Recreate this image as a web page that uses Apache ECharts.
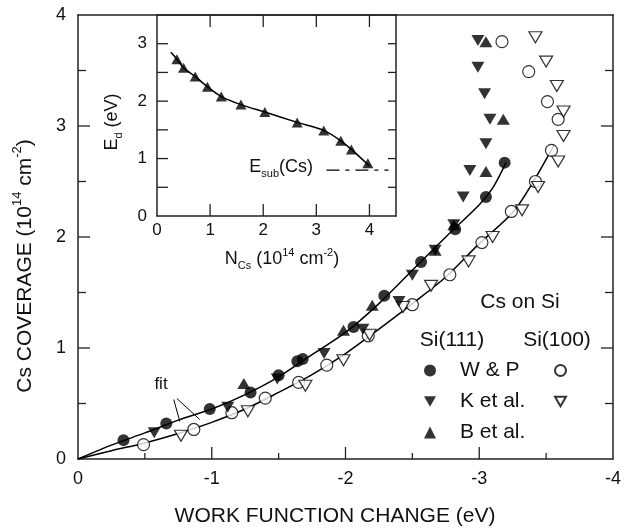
<!DOCTYPE html>
<html>
<head>
<meta charset="utf-8">
<script src="https://cdn.jsdelivr.net/npm/echarts@6/dist/echarts.min.js"></script>
<style>
  html, body { margin: 0; padding: 0; background: #fff; }
  #chart { width: 624px; height: 530px; }
</style>
</head>
<body>
<div id="chart"></div>
<script>
// Si(111): W & P (filled circles), K et al. (filled down triangles), B et al. (filled up triangles)
const wpX = [-0.34, -0.66, -0.985, -1.29, -1.50, -1.64, -1.68, -2.06, -2.29, -2.565, -2.82, -3.05, -3.19]
const wpY = [0.17, 0.32, 0.45, 0.60, 0.755, 0.88, 0.90, 1.19, 1.47, 1.775, 2.07, 2.36, 2.67]
const kX = [-0.57, -1.12, -1.49, -1.84, -2.13, -2.40, -2.50, -2.67, -2.81, -2.88, -2.93, -3.05, -3.08, -3.04, -2.99, -2.99]
const kY = [0.236, 0.467, 0.72, 0.95, 1.17, 1.42, 1.655, 1.88, 2.11, 2.36, 2.60, 2.84, 3.06, 3.29, 3.53, 3.77]
const bX = [-1.24, -1.985, -2.20, -2.67, -2.81, -3.05, -3.18, -3.05]
const bY = [0.68, 1.16, 1.385, 1.88, 2.11, 2.59, 3.06, 3.76]

// Si(100): W & P (open circles), K et al. (open down triangles)
const wp100X = [-0.49, -0.866, -1.15, -1.40, -1.65, -1.86, -2.17, -2.50, -2.78, -3.02, -3.24, -3.42, -3.54, -3.59, -3.51, -3.37, -3.17]
const wp100Y = [0.13, 0.266, 0.417, 0.548, 0.69, 0.846, 1.11, 1.39, 1.66, 1.95, 2.23, 2.50, 2.78, 3.06, 3.22, 3.49, 3.76]
const k100X = [-0.77, -1.27, -1.70, -1.985, -2.18, -2.43, -2.64, -2.92, -3.10, -3.32, -3.44, -3.59, -3.63, -3.63, -3.58, -3.50, -3.42]
const k100Y = [0.21, 0.43, 0.66, 0.89, 1.12, 1.37, 1.56, 1.78, 2.00, 2.24, 2.45, 2.68, 2.91, 3.13, 3.36, 3.58, 3.80]

// fit curves
const fit111X = [0, -0.25, -0.5, -0.75, -1.0, -1.25, -1.5, -1.75, -2.0, -2.25, -2.5, -2.75, -3.0, -3.1, -3.2]
const fit111Y = [0, 0.125, 0.235, 0.35, 0.45, 0.58, 0.74, 0.94, 1.14, 1.40, 1.70, 2.00, 2.29, 2.44, 2.67]
const fit100X = [0, -0.25, -0.5, -0.75, -1.0, -1.25, -1.5, -1.75, -2.0, -2.25, -2.5, -2.75, -3.0, -3.25, -3.4, -3.56]
const fit100Y = [0, 0.075, 0.145, 0.23, 0.33, 0.45, 0.60, 0.76, 0.95, 1.17, 1.40, 1.64, 1.94, 2.22, 2.49, 2.83]
// "fit" pointer lines
const pointerAX = [-0.716, -0.761]
const pointerAY = [0.536, 0.338]
const pointerBX = [-0.739, -0.910]
const pointerBY = [0.545, 0.356]

// inset: E_d vs N_Cs
const edN = [0.375, 0.50, 0.72, 0.95, 1.21, 1.58, 2.03, 2.64, 3.14, 3.46, 3.66, 3.97]
const edE = [2.73, 2.58, 2.43, 2.25, 2.08, 1.94, 1.81, 1.63, 1.49, 1.31, 1.16, 0.92]
const edFitN = [0.26, 0.375, 0.50, 0.72, 0.95, 1.21, 1.58, 2.03, 2.64, 3.14, 3.46, 3.66, 4.0]
const edFitE = [2.85, 2.73, 2.58, 2.43, 2.25, 2.08, 1.94, 1.81, 1.63, 1.49, 1.31, 1.16, 0.87]
const esubN = [3.19, 4.36]
const esubE = [0.80, 0.80]

// tick positions (inward ticks on the frames)
const mainXTicks = [-0.5, -1, -1.5, -2, -2.5, -3, -3.5]
const mainYTicks = [0.5, 1, 1.5, 2, 2.5, 3, 3.5]
const insetXTicks = [1, 2, 3, 4]
const insetYTicks = [0.5, 1, 1.5, 2, 2.5, 3]

const FONT = 'Liberation Sans, Arial, Helvetica, sans-serif'
const INK = '#111'
const DOWN = 'path://M0,0 L10,0 L5,8.66 Z'

const zip = (xs, ys) => xs.map((x, i) => [x, ys[i]])

function label(x, y, text, size, extra, align) {
  const small = Math.round(size * 0.62)
  return Object.assign({
    type: 'text', x: x, y: y, z: 100,
    style: {
      text: text, fontSize: size, fontFamily: FONT, fill: INK,
      align: align || 'center', verticalAlign: 'middle', lineHeight: Math.round(size * 1.35),
      rich: {
        sup: { fontSize: small, fontFamily: FONT, fill: INK, lineHeight: small, verticalAlign: 'top' },
        sub: { fontSize: small, fontFamily: FONT, fill: INK, lineHeight: small, verticalAlign: 'bottom' }
      }
    }
  }, extra || {})
}

function axis(opts) {
  const a = {
    type: 'value',
    gridIndex: opts.grid,
    min: opts.min, max: opts.max, interval: opts.interval,
    inverse: !!opts.inverse,
    axisLine: { show: true, onZero: false, lineStyle: { color: '#222', width: 1.5 } },
    axisTick: { show: false },
    axisLabel: opts.label
      ? { show: true, fontSize: opts.label, fontFamily: FONT, color: INK, margin: opts.margin, formatter: opts.formatter }
      : { show: false },
    splitLine: { show: false }
  }
  if (opts.position) a.position = opts.position
  return a
}
const hideHalf = v => (Math.abs(v - Math.round(v)) < 1e-6 ? String(Math.round(v)) : '')

// inward ticks drawn through the axes' own scales
function tickSeries(name, xIndex, yIndex, side, edge, values, majorLen, minorLen) {
  return {
    type: 'custom', name: name, xAxisIndex: xIndex, yAxisIndex: yIndex,
    silent: true, clip: false, z: 2,
    data: values.map(v => [v, v]),
    renderItem: function (params, api) {
      const v = api.value(0)
      const len = Math.abs(v - Math.round(v)) < 1e-6 ? majorLen : minorLen
      let p
      let dx = 0
      let dy = 0
      if (side === 'bottom') { p = api.coord([v, edge]); dy = -len }
      else if (side === 'top') { p = api.coord([v, edge]); dy = len }
      else if (side === 'left') { p = api.coord([edge, v]); dx = len }
      else { p = api.coord([edge, v]); dx = -len }
      return {
        type: 'line',
        shape: { x1: p[0], y1: p[1], x2: p[0] + dx, y2: p[1] + dy },
        style: { stroke: '#222', lineWidth: 1.3 }
      }
    }
  }
}

const chart = echarts.init(document.getElementById('chart'))

chart.setOption({
  animation: false,
  backgroundColor: '#fff',
  grid: [
    { left: 78, top: 15, width: 536, height: 444, show: false },
    { left: 157, top: 15, width: 239, height: 201, show: false }
  ],
  xAxis: [
    axis({ grid: 0, min: -4, max: 0, interval: 1, inverse: true, label: 18, margin: 11 }),
    axis({ grid: 0, min: -4, max: 0, interval: 1, inverse: true, position: 'top' }),
    axis({ grid: 1, min: 0, max: 4.5, interval: 1, label: 17, margin: 6, formatter: hideHalf }),
    axis({ grid: 1, min: 0, max: 4.5, interval: 1, position: 'top' })
  ],
  yAxis: [
    axis({ grid: 0, min: 0, max: 4, interval: 1, label: 18, margin: 12 }),
    axis({ grid: 0, min: 0, max: 4, interval: 1, position: 'right' }),
    axis({ grid: 1, min: 0, max: 3.5, interval: 0.5, label: 17, margin: 10, formatter: hideHalf }),
    axis({ grid: 1, min: 0, max: 3.5, interval: 0.5, position: 'right' })
  ],
  legend: [
    {
      orient: 'vertical', left: 419, top: 355, itemWidth: 12, itemHeight: 12, itemGap: 10,
      selectedMode: false,
      data: ['W & P', 'K et al.', 'B et al.'],
      textStyle: { fontSize: 21, fontFamily: FONT, color: INK, lineHeight: 20, padding: [0, 0, 0, 19] }
    },
    {
      orient: 'vertical', left: 549, top: 355, itemWidth: 11, itemHeight: 11, itemGap: 10,
      selectedMode: false,
      data: ['W & P (100)', 'K et al. (100)'],
      formatter: () => ' ',
      textStyle: { fontSize: 21, fontFamily: FONT, color: INK, lineHeight: 20 }
    }
  ],
  graphic: [
    label(25, 266, 'Cs COVERAGE (10{sup|14} cm{sup|-2})', 21, { rotation: Math.PI / 2 }),
    label(335, 516, 'WORK FUNCTION CHANGE (eV)', 21),
    label(112, 122, 'E{sub|d} (eV)', 18, { rotation: Math.PI / 2 }),
    label(282, 259, 'N{sub|Cs} (10{sup|14} cm{sup|-2})', 18),
    label(313, 167, 'E{sub|sub}(Cs)', 18, null, 'right'),
    label(161, 384, 'fit', 17),
    label(520, 302, 'Cs on Si', 21),
    label(452, 340, 'Si(111)', 21),
    label(557, 340, 'Si(100)', 21)
  ],
  series: [
    tickSeries('tick-main-bottom', 0, 0, 'bottom', 0, mainXTicks, 12, 6),
    tickSeries('tick-main-left', 0, 0, 'left', 0, mainYTicks, 12, 8),
    tickSeries('tick-main-right', 0, 0, 'right', -4, mainYTicks, 12, 8),
    tickSeries('tick-inset-bottom', 2, 2, 'bottom', 0, insetXTicks, 12, 12),
    tickSeries('tick-inset-top', 2, 2, 'top', 3.5, insetXTicks, 12, 12),
    tickSeries('tick-inset-left', 2, 2, 'left', 0, insetYTicks, 11, 11),
    tickSeries('tick-inset-right', 2, 2, 'right', 4.5, insetYTicks, 8, 8),
    {
      type: 'line', name: 'fit111', xAxisIndex: 0, yAxisIndex: 0, data: zip(fit111X, fit111Y),
      smooth: 0.3, symbol: 'none', lineStyle: { color: '#000', width: 1.5 }, z: 1
    },
    {
      type: 'line', name: 'fit100', xAxisIndex: 0, yAxisIndex: 0, data: zip(fit100X, fit100Y),
      smooth: 0.3, symbol: 'none', lineStyle: { color: '#000', width: 1.5 }, z: 1
    },
    {
      type: 'line', name: 'pointerA', xAxisIndex: 0, yAxisIndex: 0, data: zip(pointerAX, pointerAY),
      symbol: 'none', lineStyle: { color: '#000', width: 1 }, z: 1
    },
    {
      type: 'line', name: 'pointerB', xAxisIndex: 0, yAxisIndex: 0, data: zip(pointerBX, pointerBY),
      symbol: 'none', lineStyle: { color: '#000', width: 1 }, z: 1
    },
    {
      type: 'scatter', name: 'W & P (100)', xAxisIndex: 0, yAxisIndex: 0, data: zip(wp100X, wp100Y),
      symbol: 'circle', symbolSize: 12,
      itemStyle: { color: '#fff', borderColor: '#000', borderWidth: 1.2 }, z: 3
    },
    {
      type: 'scatter', name: 'K et al. (100)', xAxisIndex: 0, yAxisIndex: 0, data: zip(k100X, k100Y),
      symbol: DOWN, symbolSize: [13, 11],
      itemStyle: { color: '#fff', borderColor: '#000', borderWidth: 1.2 }, z: 3
    },
    {
      type: 'scatter', name: 'W & P', xAxisIndex: 0, yAxisIndex: 0, data: zip(wpX, wpY),
      symbol: 'circle', symbolSize: 12, itemStyle: { color: '#000' }, z: 4
    },
    {
      type: 'scatter', name: 'K et al.', xAxisIndex: 0, yAxisIndex: 0, data: zip(kX, kY),
      symbol: DOWN, symbolSize: [13, 11], itemStyle: { color: '#000' }, z: 4
    },
    {
      type: 'scatter', name: 'B et al.', xAxisIndex: 0, yAxisIndex: 0, data: zip(bX, bY),
      symbol: 'triangle', symbolSize: [13, 11], itemStyle: { color: '#000' }, z: 4
    },
    {
      type: 'line', name: 'Ed fit', xAxisIndex: 2, yAxisIndex: 2, data: zip(edFitN, edFitE),
      smooth: 0.3, symbol: 'none', lineStyle: { color: '#000', width: 1.5 }, z: 5
    },
    {
      type: 'scatter', name: 'Ed', xAxisIndex: 2, yAxisIndex: 2, data: zip(edN, edE),
      symbol: 'triangle', symbolSize: [11, 10], itemStyle: { color: '#000' }, z: 6
    },
    {
      type: 'line', name: 'Esub', xAxisIndex: 2, yAxisIndex: 2, data: zip(esubN, esubE),
      symbol: 'none', lineStyle: { color: '#000', width: 1.3, type: [13, 6, 4, 6] }, z: 5
    }
  ]
})
</script>
</body>
</html>
